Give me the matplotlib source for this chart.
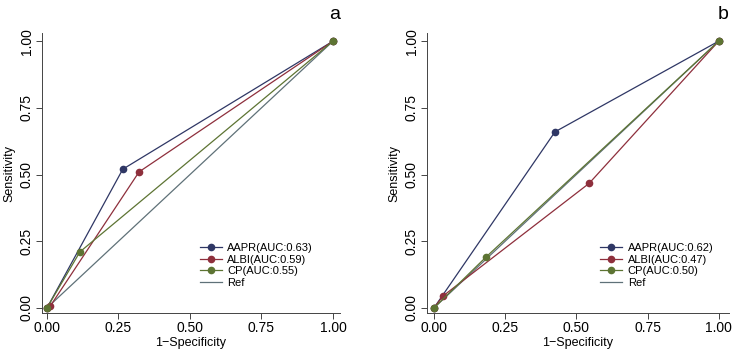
import numpy as np
import matplotlib
matplotlib.use('Agg')
import matplotlib.pyplot as plt

plt.rcParams['font.family'] = ['Liberation Sans', 'DejaVu Sans']

# panel a data
a_aapr_x = [0.0, 0.265, 1.0]
a_aapr_y = [0.0, 0.52, 1.0]
a_albi_x = [0.0, 0.012, 0.322, 1.0]
a_albi_y = [0.0, 0.008, 0.51, 1.0]
a_cp_x = [0.0, 0.115, 1.0]
a_cp_y = [0.0, 0.21, 1.0]
a_labels = ['AAPR(AUC:0.63)', 'ALBI(AUC:0.59)', 'CP(AUC:0.55)', 'Ref']

# panel b data
b_aapr_x = [0.0, 0.425, 1.0]
b_aapr_y = [0.0, 0.66, 1.0]
b_albi_x = [0.0, 0.032, 0.545, 1.0]
b_albi_y = [0.0, 0.045, 0.467, 1.0]
b_cp_x = [0.0, 0.182, 1.0]
b_cp_y = [0.0, 0.19, 1.0]
b_labels = ['AAPR(AUC:0.62)', 'ALBI(AUC:0.47)', 'CP(AUC:0.50)', 'Ref']

ref_x = [0.0, 1.0]
ref_y = [0.0, 1.0]
ticks = [0.0, 0.25, 0.5, 0.75, 1.0]
tick_labels = ['0.00', '0.25', '0.50', '0.75', '1.00']

c_aapr = '#2f3765'
c_albi = '#8e2f3c'
c_cp = '#5d7433'
c_ref = '#5f7178'

fig = plt.figure(figsize=(7.34, 3.52), dpi=100)
ax_a = fig.add_axes([0.0572, 0.1108, 0.406, 0.795])
ax_b = fig.add_axes([0.5817, 0.1108, 0.411, 0.795])


def draw_panel(ax, series, labels, xlim, legend_x, letter):
    handles = []
    for (x, y), col in zip(series, [c_aapr, c_albi, c_cp]):
        h, = ax.plot(x, y, color=col, lw=0.9, marker='o', ms=5.5,
                     markeredgewidth=0, zorder=3)
        handles.append(h)
    h, = ax.plot(ref_x, ref_y, color=c_ref, lw=0.9, zorder=2)
    handles.append(h)

    ax.set_xlim(*xlim)
    ax.set_ylim(-0.019, 1.03)
    ax.set_xticks(ticks)
    ax.set_xticklabels(tick_labels)
    ax.set_yticks(ticks)
    ax.set_yticklabels(tick_labels, rotation=90, va='center')
    ax.tick_params(labelsize=10, length=4, width=0.7, color='#444444', pad=2)
    for s in ['top', 'right']:
        ax.spines[s].set_visible(False)
    for s in ['left', 'bottom']:
        ax.spines[s].set_linewidth(0.7)
        ax.spines[s].set_color('#444444')
    ax.set_xlabel('1\u2212Specificity', fontsize=9, labelpad=1)
    ax.set_ylabel('Sensitivity', fontsize=9, labelpad=3)

    ax.legend(handles, labels, loc='upper left', bbox_to_anchor=(legend_x, 0.27),
              frameon=False, fontsize=8, handlelength=2.0, handletextpad=0.5,
              labelspacing=0.15, borderpad=0)
    ax.text(1.0, 1.035, letter, transform=ax.transAxes, fontsize=14,
            ha='right', va='bottom')


draw_panel(ax_a, [(a_aapr_x, a_aapr_y), (a_albi_x, a_albi_y), (a_cp_x, a_cp_y)],
           a_labels, (-0.0175, 1.0245), 0.51, 'a')
draw_panel(ax_b, [(b_aapr_x, b_aapr_y), (b_albi_x, b_albi_y), (b_cp_x, b_cp_y)],
           b_labels, (-0.0246, 1.035), 0.555, 'b')

fig.savefig('out.png', dpi=100)
